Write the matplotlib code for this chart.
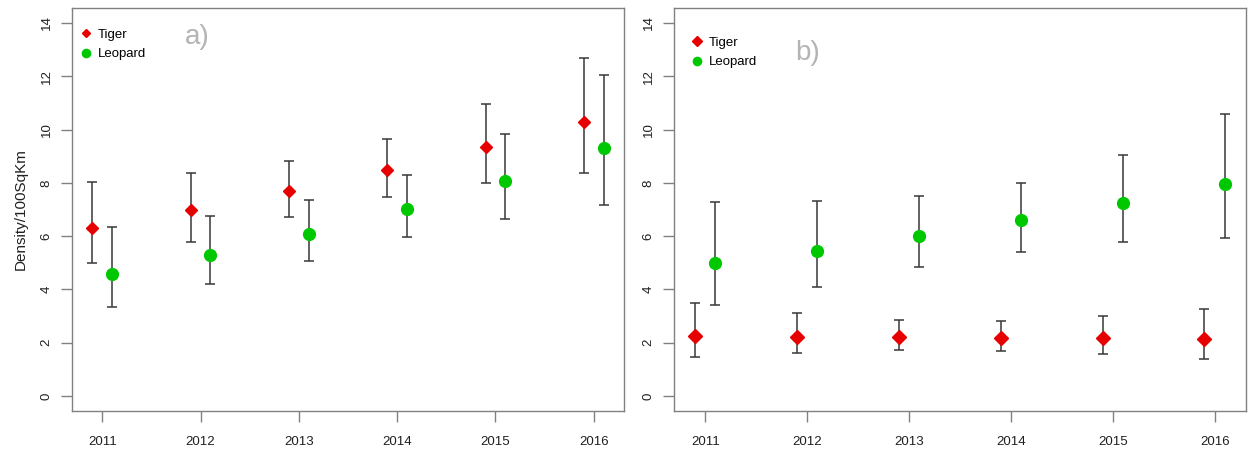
import numpy as np
import matplotlib
matplotlib.use("Agg")
import matplotlib.pyplot as plt
from matplotlib import font_manager

plt.rcParams["font.family"] = ["Liberation Sans", "DejaVu Sans"]

# Survey years
years = [2011, 2012, 2013, 2014, 2015, 2016]

# Panel a) densities with lower/upper confidence limits
tiger_a = [6.32, 6.97, 7.70, 8.48, 9.36, 10.30]
tiger_a_lo = [4.98, 5.79, 6.71, 7.48, 8.01, 8.37]
tiger_a_hi = [8.05, 8.36, 8.83, 9.63, 10.94, 12.70]
leopard_a = [4.58, 5.28, 6.09, 7.02, 8.07, 9.30]
leopard_a_lo = [3.33, 4.19, 5.06, 5.96, 6.64, 7.18]
leopard_a_hi = [6.36, 6.77, 7.35, 8.28, 9.82, 12.04]

# Panel b) densities with lower/upper confidence limits
tiger_b = [2.25, 2.23, 2.21, 2.19, 2.16, 2.13]
tiger_b_lo = [1.48, 1.63, 1.71, 1.69, 1.56, 1.39]
tiger_b_hi = [3.50, 3.11, 2.86, 2.81, 3.00, 3.28]
leopard_b = [4.98, 5.46, 5.99, 6.59, 7.24, 7.95]
leopard_b_lo = [3.43, 4.10, 4.83, 5.40, 5.79, 5.92]
leopard_b_hi = [7.29, 7.30, 7.49, 8.00, 9.05, 10.60]

RED = "#e60000"
GREEN = "#00c800"
FRAME = "#808080"

# narrow face for the panel letters, if present
names = {f.name for f in font_manager.fontManager.ttflist}
LETTER_FONT = "Liberation Sans Narrow" if "Liberation Sans Narrow" in names else "Liberation Sans"


def draw_panel(ax, label, tiger, t_lo, t_hi, leo, l_lo, l_hi, tiger_ms, leg_pos):
    x = np.array(years, dtype=float)
    tiger = np.array(tiger)
    leo = np.array(leo)
    t_err = [tiger - np.array(t_lo), np.array(t_hi) - tiger]
    l_err = [leo - np.array(l_lo), np.array(l_hi) - leo]

    ax.errorbar(x - 0.1, tiger, yerr=t_err, fmt="none", ecolor="#383838",
                elinewidth=1.1, capsize=3.8, capthick=1.1, zorder=2)
    ax.errorbar(x + 0.1, leo, yerr=l_err, fmt="none", ecolor="#383838",
                elinewidth=1.1, capsize=3.8, capthick=1.1, zorder=2)
    ax.plot(x - 0.1, tiger, "D", color=RED, ms=tiger_ms, mec=RED, zorder=3,
            label="Tiger")
    ax.plot(x + 0.1, leo, "o", color=GREEN, ms=8.5, mec=GREEN, zorder=3,
            label="Leopard")

    # R-style 4% padding around the data range
    ax.set_xlim(2010.9 - 0.208, 2016.1 + 0.208)
    ax.set_ylim(-0.56, 14.56)
    ax.set_xticks(years)
    ax.set_yticks(range(0, 15, 2))
    ax.tick_params(axis="both", direction="out", length=8, width=1,
                   color=FRAME, labelsize=9.5, labelcolor="#202020")
    ax.tick_params(axis="x", pad=10)
    ax.tick_params(axis="y", pad=6)
    for t in ax.get_yticklabels():
        t.set_rotation(90)
        t.set_va("center")
    for sp in ax.spines.values():
        sp.set_color(FRAME)
        sp.set_linewidth(1)

    ax.legend(loc="upper left", bbox_to_anchor=leg_pos, frameon=False,
              fontsize=9.5, handletextpad=0.4, labelspacing=0.55,
              markerscale=0.7, handlelength=1.0, borderaxespad=0)
    ax.text(label[1], label[2], label[0], transform=ax.transAxes,
            fontsize=20, color="#b4b4b4", ha="center", va="center",
            family=[LETTER_FONT, "DejaVu Sans"])


fig = plt.figure(figsize=(12.48, 4.51), dpi=100)
ax1 = fig.add_axes([0.0577, 0.0887, 0.4423, 0.8936])
ax2 = fig.add_axes([0.540, 0.0887, 0.4584, 0.8936])

draw_panel(ax1, ("a)", 0.226, 0.928), tiger_a, tiger_a_lo, tiger_a_hi,
           leopard_a, leopard_a_lo, leopard_a_hi, 6, (0.003, 0.962))
draw_panel(ax2, ("b)", 0.234, 0.888), tiger_b, tiger_b_lo, tiger_b_hi,
           leopard_b, leopard_b_lo, leopard_b_hi, 7, (0.02, 0.942))

ax1.set_ylabel("Density/100SqKm", fontsize=11, color="#202020", labelpad=9)

fig.savefig("out.png", dpi=100)
